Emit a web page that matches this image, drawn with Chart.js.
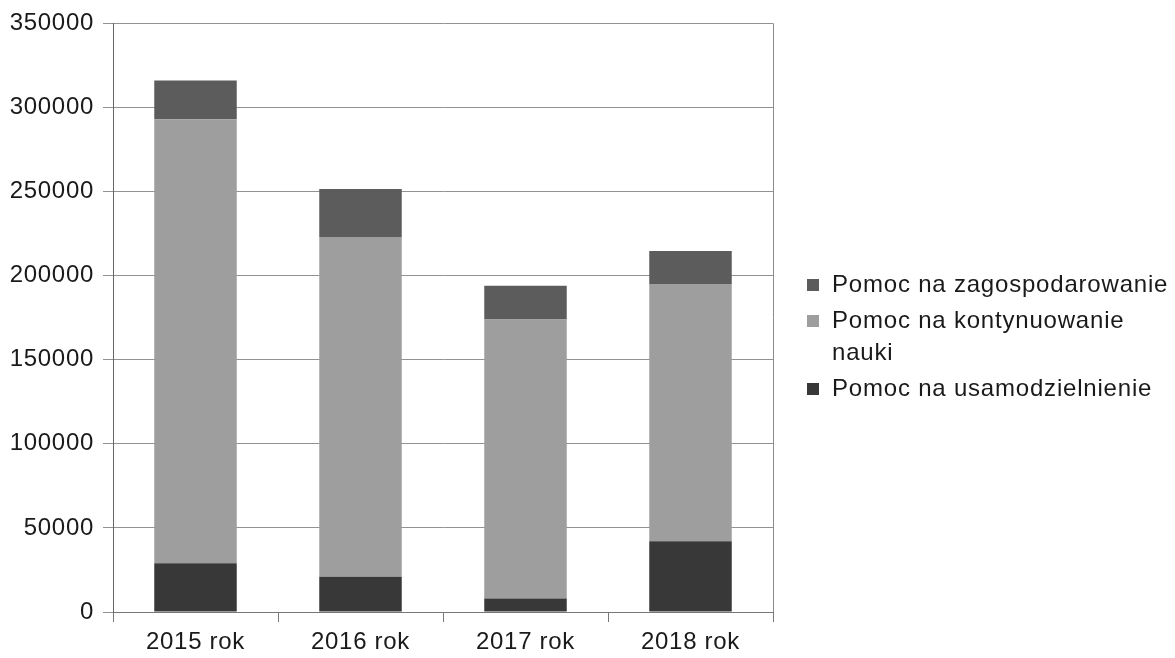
<!DOCTYPE html>
<html>
<head>
<meta charset="utf-8">
<script src="https://cdn.jsdelivr.net/npm/chart.js@4/dist/chart.umd.min.js"></script>
<style>
  html, body { margin: 0; padding: 0; background: #fff; }
  #wrap { width: 1175px; height: 658px; }
</style>
</head>
<body>
<div id="wrap"><canvas id="chart" width="1175" height="658"></canvas></div>
<script>
const categories = ['2015 rok', '2016 rok', '2017 rok', '2018 rok'];
const usamodzielnienie = [29000, 21000, 8000, 42000];
const kontynuowanie = [264000, 202000, 166000, 153000];
const zagospodarowanie = [23000, 28500, 20000, 19700];
const seriesNames = ['Pomoc na usamodzielnienie', ['Pomoc na kontynuowanie', 'nauki'], 'Pomoc na zagospodarowanie'];

const colors = ['#383838', '#9e9e9e', '#5c5c5c'];
const font = "'Liberation Sans', Arial, sans-serif";

// slightly wider letters, like the original print
const spacing = {
  id: 'spacing',
  beforeLayout(chart) { chart.ctx.letterSpacing = '0.7px'; },
  beforeDraw(chart) { chart.ctx.letterSpacing = '0.7px'; }
};

// legend drawn by hand so the long label can wrap onto two lines
const sideLegend = {
  id: 'sideLegend',
  afterDraw(chart) {
    const ctx = chart.ctx;
    const items = chart.data.datasets.map((d, i) => ({ label: seriesNames[i], color: d.backgroundColor })).reverse();
    let y = 285;
    ctx.save();
    ctx.font = '24px ' + font;
    ctx.letterSpacing = '0.8px';
    ctx.textBaseline = 'middle';
    items.forEach(it => {
      ctx.fillStyle = it.color;
      ctx.fillRect(807, y - 6, 12, 12);
      ctx.fillStyle = '#1a1a1a';
      const lines = Array.isArray(it.label) ? it.label : [it.label];
      lines.forEach((l, k) => ctx.fillText(l, 832, y + k * 32));
      y += lines.length * 32 + 4;
    });
    ctx.restore();
  }
};

const frame = {
  id: 'frame',
  beforeDatasetsDraw(chart) {
    const a = chart.chartArea;
    const ctx = chart.ctx;
    ctx.save();
    ctx.strokeStyle = '#8a8a8a';
    ctx.lineWidth = 1;
    ctx.beginPath();
    ctx.moveTo(Math.round(a.right) + 0.5, a.top);
    ctx.lineTo(Math.round(a.right) + 0.5, a.bottom);
    ctx.stroke();
    ctx.restore();
  }
};

new Chart(document.getElementById('chart'), {
  type: 'bar',
  data: {
    labels: categories,
    datasets: [
      { label: 'Pomoc na usamodzielnienie', data: usamodzielnienie, backgroundColor: colors[0] },
      { label: 'Pomoc na kontynuowanie nauki', data: kontynuowanie, backgroundColor: colors[1] },
      { label: 'Pomoc na zagospodarowanie', data: zagospodarowanie, backgroundColor: colors[2] }
    ]
  },
  options: {
    responsive: false,
    animation: false,
    layout: { padding: { top: 22, right: 402, left: 0, bottom: 0 } },
    datasets: { bar: { categoryPercentage: 0.5, barPercentage: 1 } },
    plugins: { legend: { display: false }, tooltip: { enabled: false } },
    scales: {
      x: {
        stacked: true,
        grid: { offset: true, drawOnChartArea: false, tickLength: 10, color: '#777' },
        border: { color: '#777' },
        ticks: { color: '#1a1a1a', font: { family: font, size: 24 }, padding: 6 },
        afterFit(s) { s.height = 46; }
      },
      y: {
        stacked: true,
        min: 0,
        max: 350000,
        grid: { color: '#929292', tickLength: 10 },
        border: { color: '#666' },
        ticks: {
          stepSize: 50000, color: '#1a1a1a', font: { family: font, size: 24 }, padding: 9,
          callback: v => String(v)
        },
        afterFit(s) { s.width = 113; }
      }
    }
  },
  plugins: [spacing, frame, sideLegend]
});
</script>
</body>
</html>
